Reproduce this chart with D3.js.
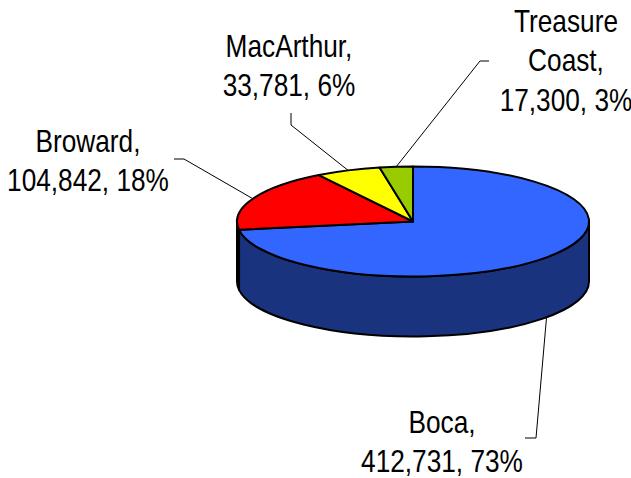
<!DOCTYPE html>
<html>
<head>
<meta charset="utf-8">
<script src="https://cdn.jsdelivr.net/npm/d3@7"></script>
<style>
  html, body { margin: 0; padding: 0; background: #fff; }
  text { font-family: "Liberation Sans", Arial, sans-serif; fill: #000; }
</style>
</head>
<body>
<div id="chart"></div>
<script>
// data
var names = ["Boca", "Broward", "MacArthur", "Treasure Coast"];
var values = [412731, 104842, 33781, 17300];
var topColors = ["#3366ff", "#ff0000", "#ffff00", "#99cc00"];
var sideColors = ["#1a337f", "#800000", "#808000", "#4d6600"];

// label layout: center x, first baseline, leader elbow + end
var labelPos = [
  {x: 442, y: 433, elbow: [536, 438], end: [525, 438], side: true},
  {x: 88, y: 152, elbow: [184, 159], end: [174, 159]},
  {x: 289, y: 57, elbow: [291, 125], end: [291, 113]},
  {x: 566, y: 32, elbow: [480, 61], end: [489, 61]}
];

var svgWidth = 631;
var svgHeight = 478;

var cx = 413, cy = 221.5;
var rx = 176, ry = 55;
var depth = 60;

var svg = d3.select("#chart")
  .append("svg")
  .attr("width", svgWidth)
  .attr("height", svgHeight);

var total = d3.sum(values);
var rows = names.map(function(n, i) { return {name: n, value: values[i], i: i}; });

var pie = d3.pie().sort(null).value(d => d.value);
var arcs = pie(rows);

// project an angle (clockwise from 12 o'clock) onto the tilted ellipse
function pt(a, dy) {
  return [cx + rx * Math.sin(a), cy - ry * Math.cos(a) + (dy || 0)];
}

function topPath(d) {
  var p0 = pt(d.startAngle), p1 = pt(d.endAngle);
  var large = (d.endAngle - d.startAngle) > Math.PI ? 1 : 0;
  return "M" + cx + "," + cy + "L" + p0 + "A" + rx + "," + ry + " 0 " + large + " 1 " + p1 + "Z";
}

function sidePath(d) {
  var s = Math.max(d.startAngle, Math.PI / 2);
  var e = Math.min(d.endAngle, 3 * Math.PI / 2);
  if (e <= s) return null;
  var a = pt(s), b = pt(e), b2 = pt(e, depth), a2 = pt(s, depth);
  return "M" + a + "A" + rx + "," + ry + " 0 0 1 " + b + "L" + b2 +
    "A" + rx + "," + ry + " 0 0 0 " + a2 + "Z";
}

// side walls first
svg.append("g").selectAll("path")
  .data(arcs.filter(d => sidePath(d)))
  .enter()
  .append("path")
  .attr("d", sidePath)
  .attr("fill", d => sideColors[d.data.i])
  .attr("stroke", "#000")
  .attr("stroke-width", 2)
  .attr("stroke-linejoin", "round");

svg.append("g").selectAll("path")
  .data(arcs)
  .enter()
  .append("path")
  .attr("d", topPath)
  .attr("fill", d => topColors[d.data.i])
  .attr("stroke", "#000")
  .attr("stroke-width", 2)
  .attr("stroke-linejoin", "round");

// leader lines + labels
var fmt = d3.format(",");
arcs.forEach(function(d) {
  var lp = labelPos[d.data.i];
  var mid = (d.startAngle + d.endAngle) / 2;
  var anchor = pt(mid, lp.side ? depth : 0);
  svg.append("polyline")
    .attr("points", [anchor, lp.elbow, lp.end].map(p => p.join(",")).join(" "))
    .attr("fill", "none")
    .attr("stroke", "#000")
    .attr("stroke-width", 1);

  var pct = Math.round(d.data.value / total * 100);
  var nameParts = d.data.name.split(" ");
  var lines = nameParts.slice(0, -1).concat([nameParts[nameParts.length - 1] + ","]);
  lines.push(fmt(d.data.value) + ", " + pct + "%");

  var g = svg.append("g")
    .attr("transform", "translate(" + lp.x + ",0) scale(0.82,1)");
  lines.forEach(function(t, k) {
    g.append("text")
      .attr("x", 0)
      .attr("y", lp.y + k * 39.5)
      .attr("text-anchor", "middle")
      .attr("font-size", "32px")
      .text(t);
  });
});
</script>
</body>
</html>
